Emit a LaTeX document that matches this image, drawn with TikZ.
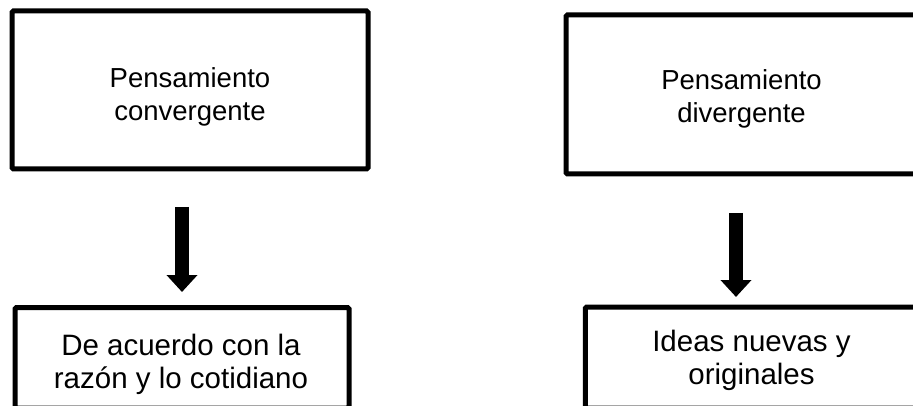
\documentclass[tikz,border=0pt]{standalone}
\usepackage{fontspec}
\setmainfont{Liberation Sans}
\usetikzlibrary{arrows.meta}
\tikzset{
  box/.style={draw=black, line width=5pt, rounded corners=1.5pt, rectangle, inner sep=0pt},
  toptext/.style={align=center, inner sep=0pt, font=\fontsize{27.5}{33}\selectfont},
  bottext/.style={align=center, inner sep=0pt, font=\fontsize{29.5}{33}\selectfont},
  bigarrow/.style={line width=14pt, -{Triangle[width=30pt,length=17pt]}}
}
\begin{document}
\begin{tikzpicture}[x=1pt,y=-1pt]
\path[use as bounding box] (0,0) rectangle (913,406);
\clip (0,0) rectangle (913,406);
\fill[white] (0,0) rectangle (913,406);
% boxes
\node[box, minimum width=356pt, minimum height=158pt] (tl) at (190,90) {};
\node[box, minimum width=369pt, minimum height=159pt] (tr) at (750.5,94.5) {};
\node[box, minimum width=334pt, minimum height=100.5pt] (bl) at (182,357.75) {};
\node[box, minimum width=350pt, minimum height=101pt] (br) at (760.25,357.5) {};
% texts
\node[toptext] (tlt) at (190,96.5) {Pensamiento\\convergente};
\node[toptext] (trt) at (741.5,99) {Pensamiento\\divergente};
\node[bottext] (blt) at (181,364) {De acuerdo con la\\razón y lo cotidiano};
\node[bottext] (brt) at (751.5,360.5) {Ideas nuevas y\\originales};
% arrows
\coordinate (a1s) at (182,207);
\coordinate (a1e) at (182,292);
\coordinate (a2s) at (736,213);
\coordinate (a2e) at (736,297);
\draw[bigarrow] (a1s) -- (a1e);
\draw[bigarrow] (a2s) -- (a2e);
\end{tikzpicture}
\end{document}
